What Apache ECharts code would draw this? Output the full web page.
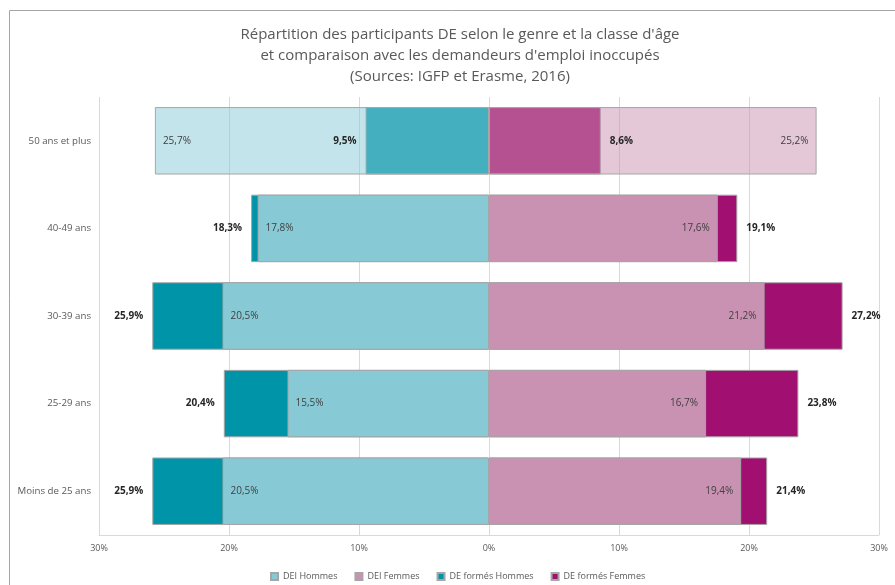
<!DOCTYPE html>
<html>
<head>
<meta charset="utf-8">
<title>Répartition des participants DE</title>
<script src="https://cdn.jsdelivr.net/npm/echarts@6/dist/echarts.min.js"></script>
<style>
    html, body { margin: 0; padding: 0; background: #fff; }
    #chart { width: 895px; height: 585px; }
</style>
</head>
<body>
<div id="chart"></div>
<script>
// categories, bottom to top
var categories = ['Moins de 25 ans', '25-29 ans', '30-39 ans', '40-49 ans', '50 ans et plus'];
var deiHommes = [20.5, 15.5, 20.5, 17.8, 25.7];
var deiFemmes = [19.4, 16.7, 21.2, 17.6, 25.2];
var formesHommes = [25.9, 20.4, 25.9, 18.3, 9.5];
var formesFemmes = [21.4, 23.8, 27.2, 19.1, 8.6];
var xTicks = [-30, -20, -10, 0, 10, 20, 30];

var colors = {
    deiH: '#87cad6',
    deiF: '#c991b2',
    formesH: '#0094a8',
    formesF: '#a10f70'
};

function pct(v) {
    return Math.abs(v).toFixed(1).replace('.', ',') + '%';
}

// DEI bars sit in front; when they are the longer bar they get see-through
function deiData(vals, other, sign, rgb) {
    return vals.map(function (v, i) {
        var item = {value: sign * v};
        if (v > other[i]) {
            item.itemStyle = {color: 'rgba(' + rgb + ',0.5)'};
        }
        return item;
    });
}

var chart = echarts.init(document.getElementById('chart'));

var barBase = {
    type: 'bar',
    barGap: '-100%',
    barCategoryGap: '23%',
    animation: false
};

var option = {
    textStyle: {fontFamily: 'Open Sans'},
    title: {
        text: 'Répartition des participants DE selon le genre et la classe d\'âge\net comparaison avec les demandeurs d\'emploi inoccupés\n(Sources: IGFP et Erasme, 2016)',
        left: 455,
        top: 19,
        textAlign: 'center',
        textStyle: {
            fontFamily: 'Open Sans',
            fontSize: 15,
            fontWeight: 'normal',
            color: '#595959',
            lineHeight: 21
        }
    },
    graphic: [{
        type: 'rect',
        shape: {x: 9.5, y: 10.5, width: 900, height: 600},
        style: {fill: 'none', stroke: '#a6a6a6', lineWidth: 1},
        silent: true
    }],
    legend: {
        data: ['DEI Hommes', 'DEI Femmes', 'DE formés Hommes', 'DE formés Femmes'],
        left: 265,
        top: 567,
        icon: 'rect',
        itemWidth: 7,
        itemHeight: 7,
        itemGap: 17,
        textStyle: {fontSize: 9, color: '#595959', fontFamily: 'Open Sans'}
    },
    grid: {
        left: 99,
        right: 16,
        top: 97,
        bottom: 50
    },
    xAxis: {
        type: 'value',
        min: xTicks[0],
        max: xTicks[xTicks.length - 1],
        interval: 10,
        axisLine: {show: true, lineStyle: {color: '#d9d9d9'}},
        axisTick: {show: false},
        splitLine: {show: true, lineStyle: {color: '#d9d9d9'}},
        axisLabel: {
            color: '#595959',
            fontSize: 9,
            margin: 9,
            formatter: function (v) { return Math.abs(v) + '%'; }
        }
    },
    yAxis: {
        type: 'category',
        data: categories,
        axisLine: {show: false},
        axisTick: {show: false},
        axisLabel: {color: '#595959', fontSize: 9.7, margin: 8}
    },
    series: [
        echarts.util.extend({
            name: 'DE formés Hommes',
            data: formesHommes.map(function (v) { return -v; }),
            itemStyle: {color: colors.formesH, borderColor: '#a6a6a6', borderWidth: 1},
            label: {
                show: true, position: 'left', distance: 9,
                fontSize: 10, fontWeight: 'bold', color: '#262626',
                formatter: function (p) { return pct(p.value); }
            }
        }, barBase),
        echarts.util.extend({
            name: 'DE formés Femmes',
            data: formesFemmes.slice(),
            itemStyle: {color: colors.formesF, borderColor: '#a6a6a6', borderWidth: 1},
            label: {
                show: true, position: 'right', distance: 9,
                fontSize: 10, fontWeight: 'bold', color: '#262626',
                formatter: function (p) { return pct(p.value); }
            }
        }, barBase),
        echarts.util.extend({
            name: 'DEI Hommes',
            data: deiData(deiHommes, formesHommes, -1, '135,202,214'),
            itemStyle: {color: colors.deiH, borderColor: '#a6a6a6', borderWidth: 1},
            label: {
                show: true, position: 'insideLeft', distance: 8,
                fontSize: 10, color: '#404040',
                formatter: function (p) { return pct(p.value); }
            }
        }, barBase),
        echarts.util.extend({
            name: 'DEI Femmes',
            data: deiData(deiFemmes, formesFemmes, 1, '201,145,178'),
            itemStyle: {color: colors.deiF, borderColor: '#a6a6a6', borderWidth: 1},
            label: {
                show: true, position: 'insideRight', distance: 8,
                fontSize: 10, color: '#404040',
                formatter: function (p) { return pct(p.value); }
            }
        }, barBase)
    ]
};

chart.setOption(option);
</script>
</body>
</html>
